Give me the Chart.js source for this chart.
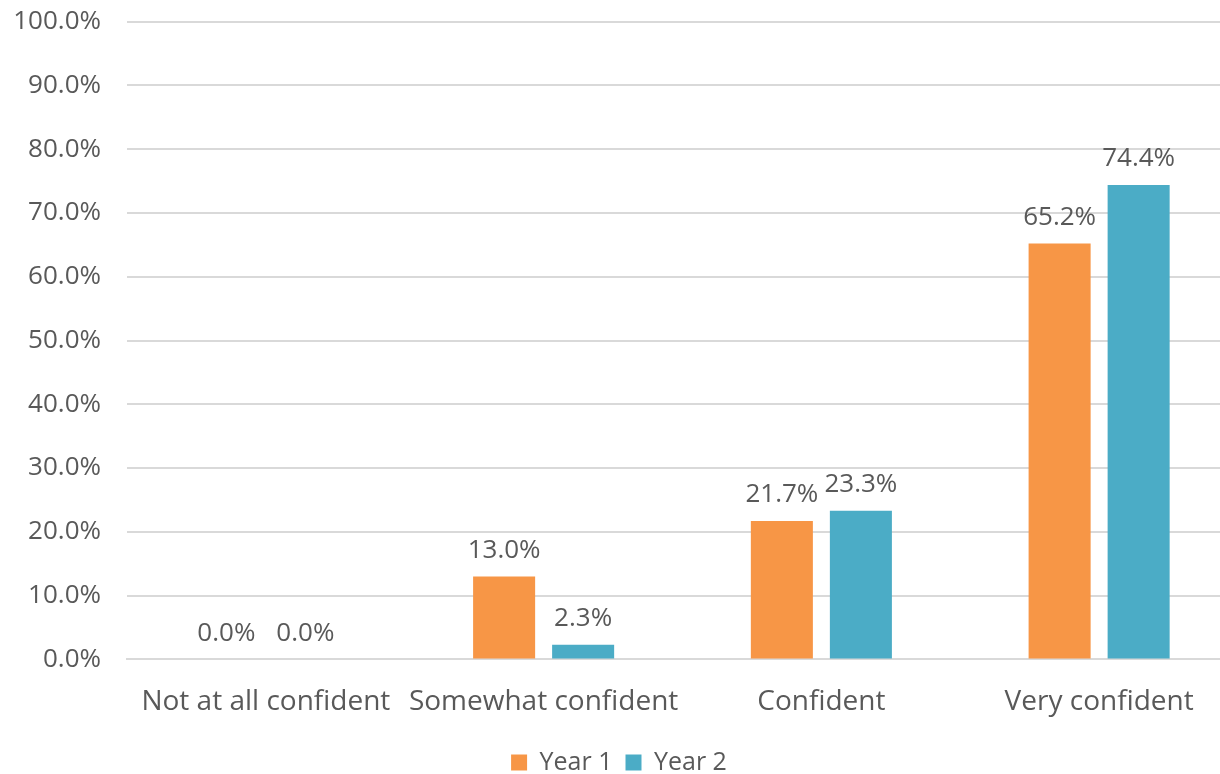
<!DOCTYPE html>
<html>
<head>
<meta charset="utf-8">
<script src="https://cdn.jsdelivr.net/npm/chart.js@4.4.1/dist/chart.umd.min.js"></script>
<style>
  html, body { margin: 0; padding: 0; background: #fff; overflow: hidden; }
  #outer { width: 1220px; height: 774px; overflow: hidden; position: relative; }
  #wrap { width: 1238px; height: 805px; position: absolute; left: 0; top: -20px; }
</style>
</head>
<body>
<div id="outer"><div id="wrap"><canvas id="chart"></canvas></div></div>
<script>
const categories = ['Not at all confident', 'Somewhat confident', 'Confident', 'Very confident'];
const year1 = [0.0, 13.0, 21.7, 65.2];
const year2 = [0.0, 2.3, 23.3, 74.4];
const seriesNames = ['Year 1', 'Year 2'];

const textColor = '#595959';
const fontFamily = '"Open Sans", Lato, sans-serif';

// etiquetas de valor acima das barras
const valueLabels = {
  id: 'valueLabels',
  afterDatasetsDraw(chart) {
    const ctx = chart.ctx;
    ctx.save();
    ctx.font = '26px ' + fontFamily;
    ctx.fillStyle = textColor;
    ctx.textAlign = 'center';
    ctx.textBaseline = 'bottom';
    chart.data.datasets.forEach((ds, i) => {
      chart.getDatasetMeta(i).data.forEach((bar, j) => {
        ctx.fillText(ds.data[j].toFixed(1) + '%', bar.x, bar.y - 13);
      });
    });
    ctx.restore();
  }
};

new Chart(document.getElementById('chart'), {
  type: 'bar',
  data: {
    labels: categories,
    datasets: [
      { label: seriesNames[0], data: year1, backgroundColor: '#F79646' },
      { label: seriesNames[1], data: year2, backgroundColor: '#4BACC6' }
    ]
  },
  options: {
    responsive: true,
    maintainAspectRatio: false,
    animation: false,
    categoryPercentage: 0.569,
    barPercentage: 0.785,
    layout: { padding: { top: 10, right: 0, left: 0, bottom: 0 } },
    scales: {
      x: {
        grid: { display: false },
        border: { color: '#D9D9D9', width: 2 },
        ticks: { color: textColor, font: { family: fontFamily, size: 28 }, padding: 18, maxRotation: 0 }
      },
      y: {
        min: 0,
        max: 100,
        ticks: {
          stepSize: 10,
          color: textColor,
          font: { family: fontFamily, size: 26 },
          padding: 26,
          callback: v => v.toFixed(1) + '%'
        },
        grid: { color: '#D9D9D9', lineWidth: 2, drawTicks: false },
        border: { display: false },
        afterFit: axis => { axis.width = 127; }
      }
    },
    plugins: {
      legend: {
        position: 'bottom',
        labels: {
          color: textColor,
          font: { family: fontFamily, size: 25 },
          boxWidth: 16,
          boxHeight: 16,
          padding: 13
        }
      },
      tooltip: { enabled: false }
    }
  },
  plugins: [valueLabels]
});
</script>
</body>
</html>
